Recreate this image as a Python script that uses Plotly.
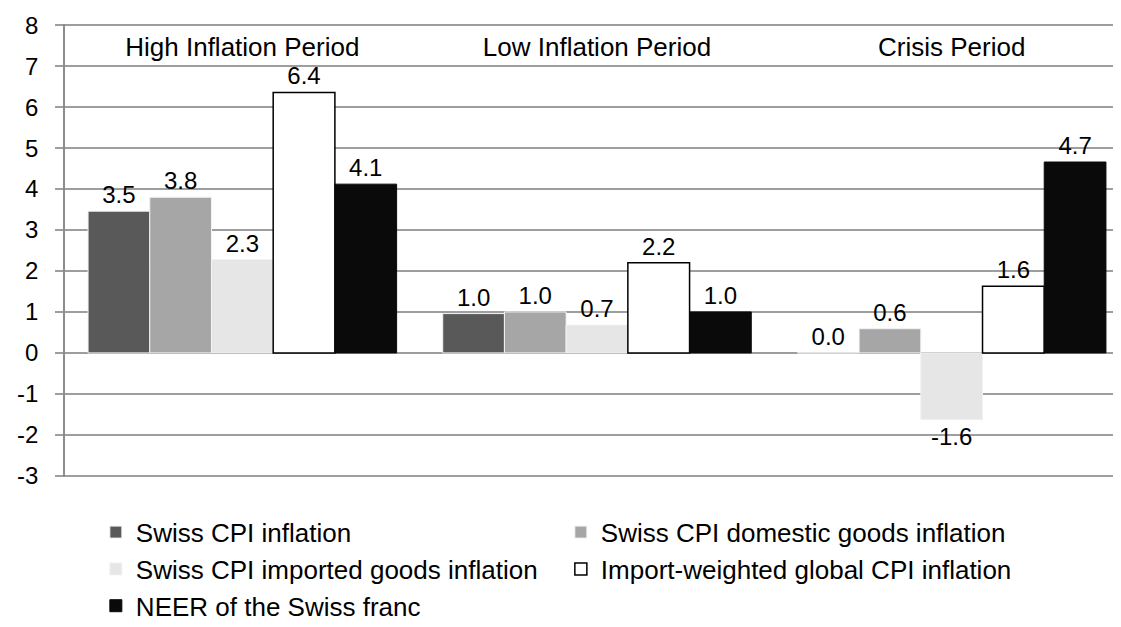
import plotly.graph_objects as go

# Periods (categories) and series values
periods = ["High Inflation Period", "Low Inflation Period", "Crisis Period"]

swiss_cpi = [3.46, 0.96, 0.0]
swiss_domestic = [3.8, 1.0, 0.59]
swiss_imported = [2.28, 0.68, -1.63]
global_cpi = [6.36, 2.2, 1.63]
neer_chf = [4.12, 1.0, 4.66]

series_names = [
    "Swiss CPI inflation",
    "Swiss CPI domestic goods inflation",
    "Swiss CPI imported goods inflation",
    "Import-weighted global CPI inflation",
    "NEER of the Swiss franc",
]

y_ticks = [-3, -2, -1, 0, 1, 2, 3, 4, 5, 6, 7, 8]

FONT = "Arial, Liberation Sans, sans-serif"
GRID = "#9e9e9e"

styles = [
    dict(color="#595959", line=dict(color="#f2f2f2", width=1)),
    dict(color="#a6a6a6", line=dict(color="#f2f2f2", width=1)),
    dict(color="#e6e6e6", line=dict(color="#f2f2f2", width=1)),
    dict(color="#ffffff", line=dict(color="#000000", width=1.5)),
    dict(color="#0a0a0a", line=dict(color="#0a0a0a", width=1)),
]

fig = go.Figure()
for name, vals, style in zip(series_names,
                             [swiss_cpi, swiss_domestic, swiss_imported, global_cpi, neer_chf],
                             styles):
    fig.add_trace(go.Bar(
        name=name,
        x=periods,
        y=vals,
        marker=style,
        text=[f"{v:.1f}" for v in vals],
        textposition="outside",
        textfont=dict(size=24, color="#000000", family=FONT),
        cliponaxis=False,
    ))

fig.update_layout(
    width=1121,
    height=627,
    barmode="group",
    bargap=0.13,
    bargroupgap=0,
    plot_bgcolor="white",
    paper_bgcolor="white",
    font=dict(family=FONT, size=24, color="#000000"),
    margin=dict(l=57, r=0, t=16, b=158),
    uniformtext=dict(mode=False),
    legend=dict(
        orientation="h",
        x=0.029,
        xanchor="left",
        y=-0.07,
        yanchor="top",
        entrywidth=420,
        entrywidthmode="pixels",
        font=dict(size=26, family=FONT, color="#000000"),
        traceorder="normal",
        itemclick=False,
    ),
)

# category labels sit just under the top gridline, inside the plot area
fig.update_xaxes(
    type="category",
    anchor="free",
    position=0.99,
    side="bottom",
    showgrid=False,
    showline=False,
    ticks="",
    tickfont=dict(size=26, family=FONT, color="#000000"),
)

# range padded a hair so the gridlines at 8 and -3 are still drawn
fig.update_yaxes(
    range=[-3.03, 8.03],
    tickvals=y_ticks,
    ticktext=[str(t) for t in y_ticks],
    showgrid=True,
    gridcolor=GRID,
    gridwidth=1.5,
    zeroline=True,
    zerolinecolor=GRID,
    zerolinewidth=1.5,
    showline=True,
    linecolor="#8c8c8c",
    linewidth=1.5,
    ticks="outside",
    ticklen=8,
    tickcolor=GRID,
    tickwidth=1.5,
    ticklabelstandoff=12,
    tickfont=dict(size=24, family=FONT, color="#000000"),
)

fig.write_html("out.html")
